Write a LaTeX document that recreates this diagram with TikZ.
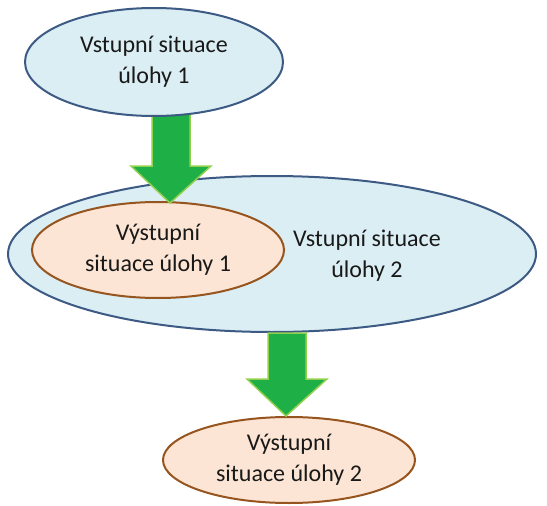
\documentclass[tikz,border=0pt]{standalone}
\usepackage{fontspec}
\setmainfont{Carlito}
\usetikzlibrary{shapes.geometric,calc}

\definecolor{bluefill}{RGB}{219,238,244}
\definecolor{blueline}{RGB}{60,90,132}
\definecolor{orangefill}{RGB}{252,229,212}
\definecolor{orangeline}{RGB}{150,84,30}
\definecolor{arrowfill}{RGB}{30,176,70}
\definecolor{arrowline}{RGB}{146,208,80}
\definecolor{txt}{RGB}{25,25,25}

\pgfdeclarelayer{front}
\pgfsetlayers{main,front}

\tikzset{
  situation/.style={ellipse, draw, line width=2pt, inner sep=0pt, align=center,
    font=\fontsize{24}{31}\selectfont, text=txt},
  inputsit/.style={situation, draw=blueline, fill=bluefill},
  outputsit/.style={situation, draw=orangeline, fill=orangefill},
  labeltext/.style={align=center, font=\fontsize{24}{31}\selectfont, text=txt},
  bigarrow/.style={fill=arrowfill, draw=arrowline, line width=1.5pt, line join=miter},
}

% block arrow from #1 (shaft top centre) down to #2 (tip)
\newcommand\blockarrow[2]{%
  \draw[bigarrow] let \p1=(#1), \p2=(#2) in
    (\x1-19pt,\y1) -- (\x1+19pt,\y1) -- (\x1+19pt,\y2+37pt) -- (\x1+40pt,\y2+37pt)
    -- (\x2,\y2) -- (\x1-40pt,\y2+37pt) -- (\x1-19pt,\y2+37pt) -- cycle;}

\begin{document}
\begin{tikzpicture}[x=1pt,y=-1pt]
  \useasboundingbox (0,0) rectangle (547,506);

  % second task: input situation containing the output of the first task
  \node[inputsit, minimum width=528pt, minimum height=156pt] (big) at (272,254) {};
  \node[labeltext] (biglabel) at (367,256) {Vstupní situace\\úlohy 2};
  \node[outputsit, minimum width=252pt, minimum height=96pt] (inner) at (158,250)
    {Výstupní\\situace úlohy 1};

  % first task input, kept in front of its outgoing arrow
  \begin{pgfonlayer}{front}
    \node[inputsit, minimum width=258pt, minimum height=108pt] (top) at (154,62)
      {Vstupní situace\\úlohy 1};
  \end{pgfonlayer}
  \coordinate (a1from) at ([xshift=17pt,yshift=8pt]top.south);
  \coordinate (a1to) at ([xshift=12pt,yshift=-2pt]inner.north);
  \blockarrow{a1from}{a1to}

  % second task output
  \coordinate (a2from) at ([xshift=15pt]big.south);
  \node[outputsit, minimum width=252pt, minimum height=86pt] (bottom) at (289,460)
    {Výstupní\\situace úlohy 2};
  \coordinate (a2to) at ([xshift=-3pt]bottom.north);
  \blockarrow{a2from}{a2to}
\end{tikzpicture}
\end{document}
